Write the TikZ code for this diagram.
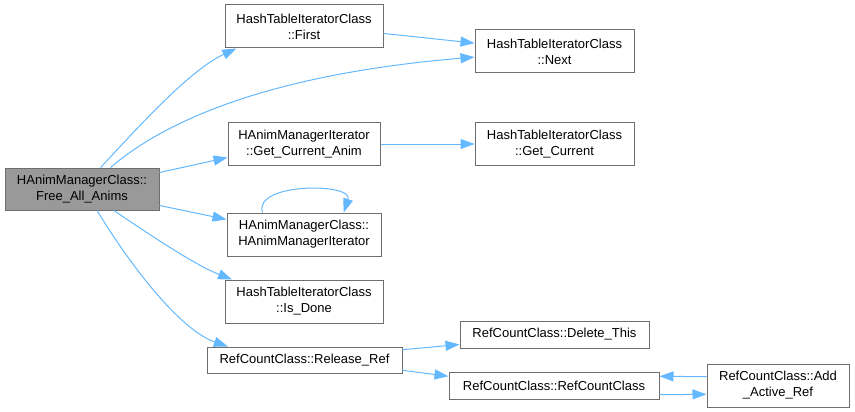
\documentclass[tikz,border=0pt]{standalone}
\usepackage{fontspec}
\setmainfont{Liberation Sans}
\usepackage{tikz}
\usetikzlibrary{arrows,arrows.meta}
\definecolor{kante}{RGB}{99,184,255}
\definecolor{rahmen}{RGB}{110,110,110}
\definecolor{wurzel}{RGB}{153,153,153}

\begin{document}
\begin{tikzpicture}[x=1pt, y=-1pt, >={Triangle[length=0pt 14,width=0pt 10]},
    fn/.style={draw=rahmen, line width=1pt, fill=white, inner sep=0pt, align=center,
        font=\fontsize{13}{16}\selectfont},
    kn/.style={kante, line width=1pt, ->}]

    \useasboundingbox (0,0) rectangle (855,412);

    % Knoten
    \node[fn, fill=wurzel, minimum width=154, minimum height=42] (free) at (82,189) {HAnimManagerClass::\\Free\_All\_Anims};
    \node[fn, minimum width=158, minimum height=43] (first) at (304,26.5) {HashTableIteratorClass\\::First};
    \node[fn, minimum width=159, minimum height=43] (next) at (554.5,51.5) {HashTableIteratorClass\\::Next};
    \node[fn, minimum width=152, minimum height=42] (anim) at (304,144) {HAnimManagerIterator\\::Get\_Current\_Anim};
    \node[fn, minimum width=159, minimum height=42] (current) at (554.5,144) {HashTableIteratorClass\\::Get\_Current};
    \node[fn, minimum width=154, minimum height=43] (iter) at (304,234.5) {HAnimManagerClass::\\HAnimManagerIterator};
    \node[fn, minimum width=158, minimum height=43] (done) at (304,301.5) {HashTableIteratorClass\\::Is\_Done};
    \node[fn, minimum width=195, minimum height=26] (release) at (304.5,360) {RefCountClass::Release\_Ref};
    \node[fn, minimum width=189, minimum height=27] (delete) at (554.5,334.5) {RefCountClass::Delete\_This};
    \node[fn, minimum width=210, minimum height=27] (refcount) at (554,385.5) {RefCountClass::RefCountClass};
    \node[fn, minimum width=142, minimum height=43] (addref) at (778,385.5) {RefCountClass::Add\\\_Active\_Ref};

    % Kanten
    \draw[kn] (free.49) .. controls (140,125) and (190,70) .. (first.198);
    \draw[kn] (free.37) .. controls (160,125) and (260,75) .. (next.184);
    \draw[kn] (first.-5) -- (next.174);
    \draw[kn] (free.12) -- (anim.190);
    \draw[kn] (anim.east) -- (current.west);
    \draw[kn] (free.-12) -- (iter.169);
    \draw[kn] (iter.152) .. controls +(-10,-30) and +(10,-30) .. (iter.29);
    \draw[kn] (free.-34) .. controls (150,235) and (195,265) .. (done.163);
    \draw[kn] (free.-55) .. controls (130,265) and (180,330) .. (release.170);
    \draw[kn] (release.6) -- (delete.186);
    \draw[kn] (release.-6) -- (refcount.175);
    \draw[kn] (addref.173) -- (refcount.5);
    \draw[kn] (refcount.-5) -- (addref.187);

\end{tikzpicture}
\end{document}
